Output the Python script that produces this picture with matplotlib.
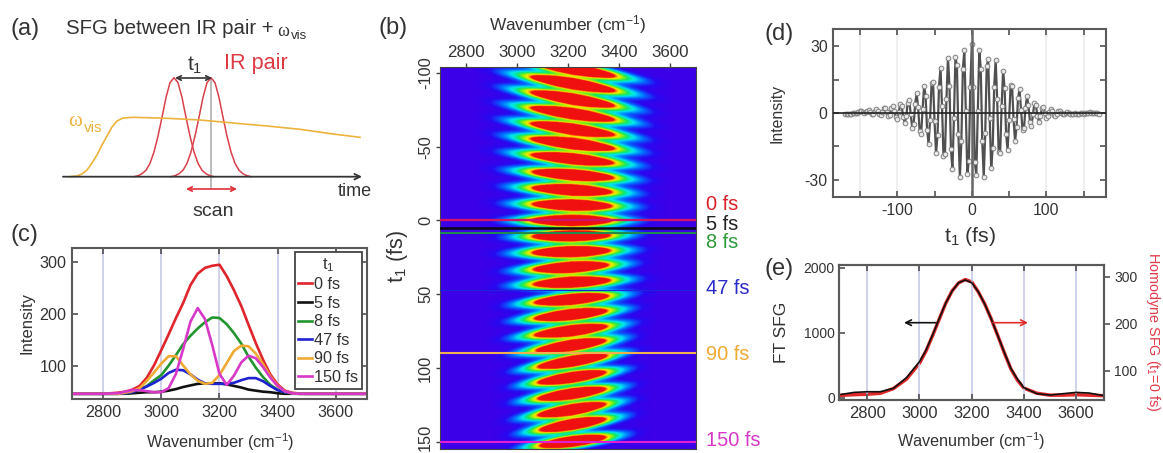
import numpy as np
import matplotlib
matplotlib.use("Agg")
import matplotlib.pyplot as plt
from matplotlib.colors import LinearSegmentedColormap
from matplotlib.transforms import ScaledTranslation

W, H = 1163, 453
plt.rcParams['font.family'] = ['Liberation Sans', 'DejaVu Sans']
plt.rcParams['mathtext.fontset'] = 'custom'
plt.rcParams['mathtext.rm'] = 'Liberation Sans'
plt.rcParams['mathtext.it'] = 'Liberation Sans'
plt.rcParams['mathtext.bf'] = 'Liberation Sans'
plt.rcParams['mathtext.default'] = 'regular'
plt.rcParams['axes.unicode_minus'] = False

TXT = '#333333'
FRAME = '#5a5a5a'

# ---------- panel (a): schematic curves (pixel frame) ----------
pulse_dx = [-40, -36, -32, -28, -24, -20, -16, -12, -8, -4, 0, 4, 8, 12, 16, 20, 24, 28, 32, 36, 40]
pulse_h = [0, .01, .03, .065, .135, .25, .41, .6, .8, .95, 1, .95, .8, .6, .41, .25, .135, .065, .03, .01, 0]
pulse_peaks_x = [174, 211]
pulse_base_y = 176.7
pulse_height = 99
vis_x = [70, 77, 82, 87, 92, 97, 102, 107, 112, 117, 123, 133, 167, 200, 233, 267, 300, 333, 360]
vis_y = [176.7, 176, 174, 170, 163, 155, 145, 136, 127, 121, 118, 117.3, 118.3, 120, 123, 126, 129.3, 134, 137.3]

# ---------- panel (c) ----------
wn_c = [2700, 2750, 2800, 2850, 2875, 2900, 2925, 2950, 2975, 3000, 3025, 3050, 3075, 3100, 3125, 3150,
        3175, 3200, 3225, 3250, 3275, 3300, 3325, 3350, 3375, 3400, 3425, 3450, 3475, 3500, 3600, 3700]
spec_0fs = [47, 47, 47, 49, 51, 55, 62, 78, 102, 131, 161, 192, 221, 255, 277, 288,
            292, 294, 272, 245, 215, 179, 144, 112, 84, 65, 53, 49, 47.5, 47, 47, 47]
spec_5fs = [47, 47, 47, 47, 47, 48, 49, 50, 50, 51, 53, 56, 60, 63, 66, 67,
            67, 67, 65, 62, 59, 55, 53, 51, 50, 48, 47, 47, 47, 47, 47, 47]
spec_8fs = [47, 47, 47, 47, 48, 51, 55, 62, 73, 83, 101, 121, 142, 158, 172, 184,
            193, 192, 180, 163, 143, 118, 97, 79, 64, 55, 50, 48, 47, 47, 47, 47]
spec_47fs = [47, 47, 47, 47, 48, 50, 55, 61, 68, 76, 87, 93, 92, 84, 74, 67,
             66, 66, 66, 68, 73, 77, 77, 71, 62, 54, 50, 48, 47, 47, 47, 47]
spec_90fs = [47, 47, 47, 47, 49, 52, 58, 72, 88, 105, 119, 119, 101, 84, 72, 66,
             68, 83, 106, 129, 139, 138, 124, 104, 80, 62, 52, 48, 47, 47, 47, 47]
spec_150fs = [47, 47, 47, 48, 51, 54, 54, 52, 50, 50, 58, 85, 133, 185, 211, 190,
              140, 85, 64, 82, 107, 120, 115, 98, 78, 62, 52, 48, 47, 47, 47, 47]
legend_labels = ['0 fs', '5 fs', '8 fs', '47 fs', '90 fs', '150 fs']
legend_colors = ['#e0242c', '#111111', '#22962e', '#1f22d0', '#eeaa33', '#d838c8']

# ---------- panel (b): fringe lobes ----------
lobe_t_left = [-107.5, -97.3, -86.9, -76.3, -65.7, -55.3, -44.5, -33.0, -22.1, -11.1, 0, 10.9, 21.9, 33.3,
               43.4, 55.9, 66.7, 78, 88.7, 100, 110.6, 121.5, 132.8, 143, 153.6]
lobe_t_right = [-98.2, -88.2, -77.9, -68.4, -58.2, -48.8, -39.0, -28.9, -19.2, -9.7, 0, 10, 20.4, 30,
                40.5, 50.9, 60.9, 71.3, 80.8, 91, 102.3, 113.6, 123.8, 134, 146.4]
lobe_w_left = [3058, 3058, 3058, 3058, 3058, 3058, 3060, 3064, 3064, 3064, 3058, 3064, 3064, 3068,
               3068, 3072, 3072, 3072, 3078, 3085, 3085, 3085, 3085, 3092, 3092]
lobe_w_right = [3381, 3381, 3378, 3378, 3378, 3378, 3375, 3375, 3368, 3368, 3368, 3362, 3362, 3355,
                3362, 3355, 3350, 3350, 3345, 3350, 3345, 3345, 3345, 3345, 3345]
lobe_profile_x = [0, .4, .7, 1, 1.2, 1.4, 1.6, 1.8, 2.0, 2.2, 2.5, 9]
lobe_profile_v = [2, 1.7, 1.2, .8, .55, .36, .24, .15, .08, .04, 0, 0]
b_lines_t = [0, 5, 8.4, 47, 90, 150]
b_lines_lw = [1.7, 1.8, 1.5, 0.8, 1.5, 1.5]
b_line_colors = ['#d0146a', '#0a0a14', '#1e8a50', '#2222d8', '#f0b050', '#e020d0']
b_labels = ['0 fs', '5 fs', '8 fs', '47 fs', '90 fs', '150 fs']
b_label_colors = ['#d9222a', '#222222', '#2e9a3a', '#2a2ac8', '#eeaa33', '#d838c8']
b_label_y = [204, 224, 243, 288, 354, 440]

# ---------- panel (d) ----------
d_right_t = list(range(0, 172, 2))
d_right = [31, 11.7, -22.2, -27.9, .9, 28.1, 19.9, -12.5, -28.9, -9.1, 21.2, 24.0, -2.3, -24.9, -15.8, 11.8,
           23.8, 6.1, -17.5, -18.1, 3.0, 19.0, 11.1, -9.6, -16.7, -3.3, 12.4, 12.0, -2.9, -12.8, -6.4, 6.7,
           10.7, 1.5, -7.7, -6.8, 2.1, 7.4, 3.4, -4.1, -5.7, -.5, 4.4, 3.4, -1.3, -4.0, -1.5, 2.0,
           2.8, .1, -2.3, -1.4, .5, 1.9, 1.0, -.9, -1.4, -.3, .7, .9, .1, -.6, -.5, .1,
           .2, .1, -.3, -.4, -.3, -.2, -.3, -.4, -.3, -.1, -.2, -.3, -.2, 0, .1, .2,
           .1, 0, -.1, 0, -.2, -.4]
d_left_t = list(range(-2, -172, -2))
d_left = [11.5, -21.5, -27.5, .9, 28.1, 19.9, -12.5, -28.9, -9.3, 21.6, 24.9, -2.3, -25.3, -16.4, 12.3,
          24.8, 6.4, -18.3, -19.4, 3.2, 20.4, 11.7, -10.1, -18.2, -3.7, 14.1, 13.3, -3.2, -14.0, -7.5, 7.6,
          12.2, 1.8, -9.5, -8.0, 2.5, 8.9, 4.1, -5.0, -6.6, -.6, 5.8, 4.6, -1.6, -4.5, -1.9, 3.0,
          4.2, .3, -2.7, -1.9, 1.0, 3.3, 2.0, -1.0, -1.5, .3, 2.2, 2.2, .3, -.8, -.5, 1.0,
          1.7, .8, -.3, -.3, .5, 1.1, 1.0, .5, 0, .4, .8, .7, .3, -.1, -.2, .1,
          -.1, -.3, -.3, -.4, -.5, -.5]

# ---------- panel (e) ----------
wn_e = [2700, 2750, 2800, 2850, 2900, 2950, 3000, 3025, 3050, 3075, 3100, 3125, 3150, 3175, 3200, 3225,
        3250, 3275, 3300, 3325, 3350, 3375, 3400, 3450, 3500, 3550, 3600, 3650, 3700]
ft_sfg = [51, 82, 92, 92, 144, 308, 554, 733, 964, 1210, 1451, 1641, 1769, 1810, 1769, 1631,
          1441, 1210, 954, 697, 451, 287, 154, 62, 41, 62, 82, 72, 36]
homodyne = [47.6, 49, 50, 52, 62, 82, 116, 142, 174.5, 209, 243, 270, 287, 294, 289, 268,
            242, 210, 174.5, 138, 104, 80, 63, 52, 48, 48, 49, 48, 47]


def ax_px(l, t, r, b, **kw):
    return fig.add_axes([l / W, 1 - b / H, (r - l) / W, (b - t) / H], **kw)


def style(ax, lw=1.5):
    for s in ax.spines.values():
        s.set_color(FRAME)
        s.set_linewidth(lw)
    ax.tick_params(direction='in', length=4, width=1.1, color='#444444', labelcolor=TXT,
                   top=True, right=True, pad=4)


fig = plt.figure(figsize=(W / 100, H / 100), dpi=100, facecolor='white')

# ---------------- (c) ----------------
axc = ax_px(72, 248, 367, 399)
axc.set_xlim(2692, 3708)
axc.set_ylim(37, 326)
for x in (2800, 3000, 3200, 3400, 3600):
    axc.axvline(x, color='#c4c6e6', lw=1.1, zorder=1)
spec = [spec_0fs, spec_5fs, spec_8fs, spec_47fs, spec_90fs, spec_150fs]
for yy, c, lab in zip(spec, legend_colors, legend_labels):
    axc.plot(wn_c, yy, color=c, lw=1.9, label=lab, zorder=3, solid_joinstyle='round')
style(axc)
axc.set_xticks([2800, 3000, 3200, 3400, 3600])
axc.set_yticks([100, 200, 300])
axc.tick_params(labelsize=11.6)
leg = axc.legend(loc='upper right', bbox_to_anchor=(0.9835, 0.972), borderaxespad=0, fontsize=11.7,
                 title='t$_1$', title_fontsize=11.7, handlelength=0.85, handletextpad=0.15,
                 labelspacing=0.22, borderpad=0.22, fancybox=False, framealpha=1, edgecolor='#444444')
leg.get_frame().set_linewidth(1.3)
for t in leg.get_texts():
    t.set_color(TXT)
leg.get_title().set_color(TXT)
leg.set_zorder(5)

# ---------------- (b) ----------------
axb = ax_px(440, 67, 696, 449)
axb.set_xlim(2700, 3700)
axb.set_ylim(155, -104)
gw = np.linspace(2700, 3700, 520)
gt = np.linspace(-104, 155, 780)
WW, TT = np.meshgrid(gw, gt)
field = np.zeros_like(WW)
for tl, tr, wl, wr in zip(lobe_t_left, lobe_t_right, lobe_w_left, lobe_w_right):
    tc = tl + (tr - tl) * (WW - 3060) / 320
    xn = np.abs(WW - (wl + wr) / 2) / ((wr - wl) / 2)
    field += np.interp(xn, lobe_profile_x, lobe_profile_v) * np.exp(-((TT - tc) / 3.7) ** 2)
cmap = LinearSegmentedColormap.from_list('fringe', [
    (0.0, '#3c00e8'), (0.07, '#2808f0'), (0.18, '#0070ff'), (0.30, '#00e8f0'),
    (0.42, '#10e860'), (0.56, '#a8f000'), (0.66, '#ffe800'), (0.75, '#ff7000'), (0.78, '#f01010'), (1.0, '#f01010')])
axb.imshow(field, extent=[2700, 3700, 155, -104], aspect='auto', cmap=cmap, vmin=0, vmax=1,
           origin='upper', interpolation='bilinear', zorder=1)
for t0, c, lw in zip(b_lines_t, b_line_colors, b_lines_lw):
    axb.axhline(t0, color=c, lw=lw, zorder=3)
for s in axb.spines.values():
    s.set_color('#444444')
    s.set_linewidth(0.8)
axb.xaxis.tick_top()
axb.set_xticks([2800, 3000, 3200, 3400, 3600])
axb.set_yticks([-100, -50, 0, 50, 100, 150])
axb.tick_params(direction='out', length=3, width=1, color='#444444', labelcolor=TXT, pad=2)
axb.tick_params(axis='x', labelsize=12.2)
axb.tick_params(axis='y', labelsize=11.8)
for lab in axb.get_yticklabels():
    lab.set_rotation(90)
    lab.set_va('center')
last = axb.get_yticklabels()[-1]
last.set_transform(last.get_transform() + ScaledTranslation(0, 4 / 100, fig.dpi_scale_trans))

# ---------------- (d) ----------------
axd = ax_px(833.3, 29, 1106, 197.3)
axd.set_xlim(-185.8, 180)
axd.set_ylim(-37.9, 37.7)
order = np.argsort(d_left_t + d_right_t)
d_t = np.array(d_left_t + d_right_t)[order]
d_v = np.array(d_left + d_right)[order]
for x in (-150, -100, 100, 150):
    axd.axvline(x, color='#ececec', lw=1.2, zorder=1)
axd.plot(d_t, d_v, color='#505050', lw=1.6, zorder=3)
axd.plot(d_t, d_v, ls='none', marker='o', ms=3.4, mfc='#e8e8e8', mec='#808080', mew=0.7, zorder=3.5)
axd.axvline(0, color='#666666', lw=1.8, zorder=4)
axd.axhline(0, color='#222222', lw=1.2, zorder=4)
style(axd)
axd.set_xticks([-150, -100, -50, 0, 50, 100, 150])
axd.set_xticklabels(['', '-100', '', '0', '', '100', ''])
axd.set_yticks([-30, -15, 0, 15, 30])
axd.set_yticklabels(['-30', '', '0', '', '30'])
axd.tick_params(labelsize=11.3)

# ---------------- (e) ----------------
axe = ax_px(839, 265, 1104.3, 400)
axe.set_xlim(2691.6, 3708)
axe.set_ylim(-35, 2041)
for x in (2800, 3000, 3200, 3400, 3600):
    axe.axvline(x, color='#c4c6e6', lw=1.1, zorder=1)
axe2 = axe.twinx()
axe2.set_ylim(37.7, 325)
axe2.plot(wn_e, homodyne, color='#e02a2a', lw=2.5, zorder=2)
axe.set_zorder(axe2.get_zorder() + 1)
axe.patch.set_visible(False)
axe.plot(wn_e, ft_sfg, color='#111111', lw=1.2, zorder=3)
for a in (axe, axe2):
    for s in a.spines.values():
        s.set_color(FRAME)
        s.set_linewidth(1.5)
axe.tick_params(direction='in', length=4, width=1.1, color='#444444', labelcolor=TXT, top=True, pad=4)
axe.tick_params(axis='x', labelsize=11.9)
axe.tick_params(axis='y', labelsize=10, pad=3)
axe.set_xticks([2800, 3000, 3200, 3400, 3600])
axe.set_yticks([0, 1000, 2000])
axe2.set_yticks([100, 200, 300])
axe2.tick_params(direction='out', length=4, width=1.1, color='#444444', labelcolor=TXT, labelsize=10, pad=3)

# ---------------- overlay in pixel frame: schematic and free text ----------------
ov = fig.add_axes([0, 0, 1, 1], zorder=20)
ov.set_xlim(0, W)
ov.set_ylim(H, 0)
ov.axis('off')

for px in pulse_peaks_x:
    ov.plot(px + np.array(pulse_dx), pulse_base_y - pulse_height * np.array(pulse_h), color='#d8404a', lw=1.1, zorder=3)
ov.plot(vis_x, vis_y, color='#ecb33c', lw=1.2, zorder=3)
ov.plot([211, 211], [78, 188], color='#a8a8a8', lw=1.1, zorder=2)


def arrow(x0, y0, x1, y1, color, style='-|>', lw=1.2, ms=9):
    ov.annotate('', xy=(x1, y1), xytext=(x0, y0),
                arrowprops=dict(arrowstyle=style, color=color, lw=lw, mutation_scale=ms,
                                shrinkA=0, shrinkB=0), zorder=6)


arrow(63, 176.7, 362, 176.7, '#333333', '->', 1.3, 10)
arrow(175, 78, 212, 78, '#333333', '<->', 1.2, 8)
arrow(186, 189, 237, 189, '#e0303a', '<->', 1.2, 8)
arrow(936, 322.7, 904, 322.7, '#111111', '->', 1.2, 10)
arrow(993, 322.7, 1028, 322.7, '#e02a2a', '->', 1.2, 10)


def txt(x, y, s, size, color=TXT, ha='left', rot=0, **kw):
    ov.text(x, y, s, fontsize=size, color=color, ha=ha, va='center', rotation=rot, **kw)


txt(11, 29, '(a)', 17)
txt(378, 28, '(b)', 17)
txt(11, 235, '(c)', 17)
txt(764, 34, '(d)', 17)
txt(764, 269, '(e)', 17)
txt(66, 29, 'SFG between IR pair +', 14.7)
txt(277, 31, '\u03c9', 13, family='Liberation Serif')
txt(291, 36, 'vis', 9.5)
txt(224, 63, 'IR pair', 15.6, '#dd3a44')
txt(187, 65, 't$_1$', 15)
txt(68, 122, '\u03c9', 15, '#ecb33c', family='Liberation Serif')
txt(84, 128, 'vis', 11, '#ecb33c')
txt(338, 192, 'time', 13)
txt(192, 212, 'scan', 14)

txt(220, 442, 'Wavenumber (cm$^{-1}$)', 11.7, ha='center')
txt(27, 323, 'Intensity', 12, ha='center', rot=90)

txt(568, 25, 'Wavenumber (cm$^{-1}$)', 12.4, ha='center')
txt(397, 257, 't$_1$ (fs)', 15.5, ha='center', rot=90)
for lab, c, y in zip(b_labels, b_label_colors, b_label_y):
    txt(706, y, lab, 14.4, c)

txt(970, 237, 't$_1$ (fs)', 15.3, ha='center')
txt(777, 113, 'Intensity', 11.4, ha='center', rot=90)

txt(971, 441, 'Wavenumber (cm$^{-1}$)', 11.7, ha='center')
txt(782, 332, 'FT SFG', 12.5, ha='center', rot=90)
txt(1153, 332, 'Homodyne SFG (t$_1$=0 fs)', 10.4, '#e03a4a', ha='center', rot=-90)

fig.savefig('out.png', dpi=100)
